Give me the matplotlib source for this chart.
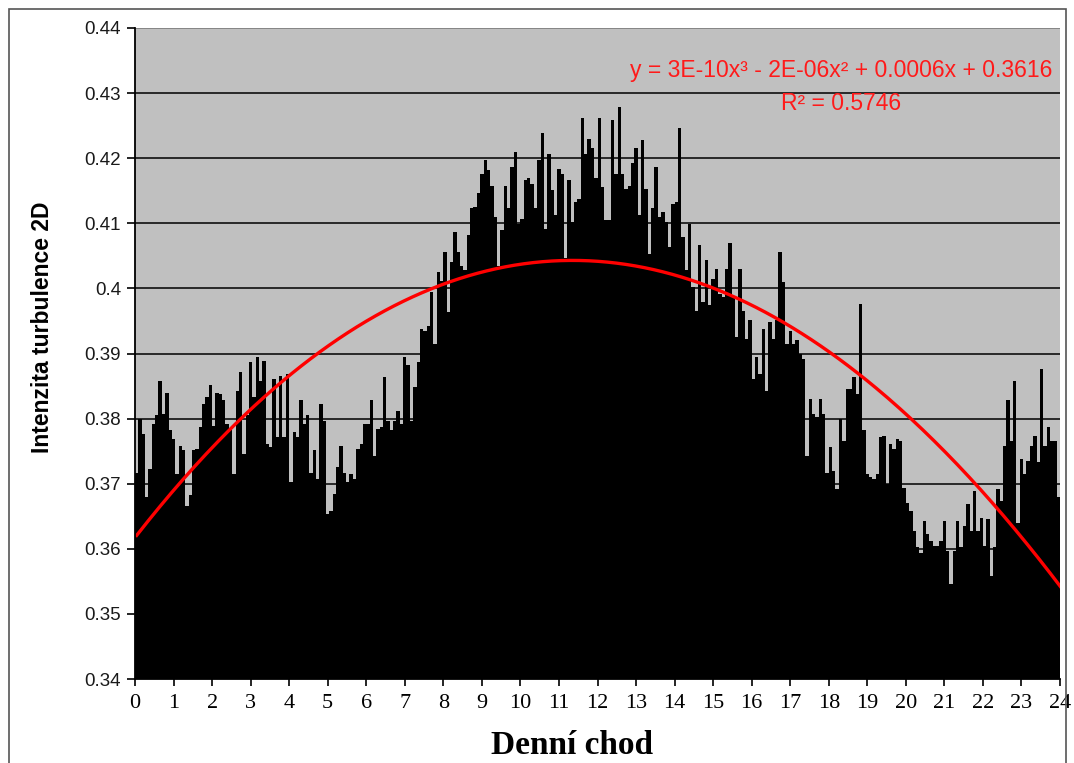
import numpy as np
import matplotlib.pyplot as plt
from matplotlib.patches import Rectangle

# Intenzita turbulence 2D (denní chod, 0-24 h)
intenzita = [
    # 0-4 h
    0.3717, 0.3800, 0.3776, 0.3679, 0.3722, 0.3792, 0.3805, 0.3858, 0.3807, 0.3840,
    0.3782, 0.3769, 0.3715, 0.3758, 0.3751, 0.3666, 0.3682, 0.3751, 0.3753, 0.3787,
    0.3823, 0.3833, 0.3851, 0.3789, 0.3840, 0.3838, 0.3828, 0.3792, 0.3782, 0.3715,
    0.3843, 0.3871, 0.3746, 0.3805, 0.3887, 0.3833, 0.3894, 0.3858, 0.3889, 0.3761,
    0.3756, 0.3861, 0.3771, 0.3866, 0.3771, 0.3869,
    # 4-8 h
    0.3702, 0.3779, 0.3771, 0.3828, 0.3792, 0.3805, 0.3717, 0.3751, 0.3707, 0.3823,
    0.3797, 0.3653, 0.3658, 0.3684, 0.3725, 0.3758, 0.3717, 0.3702, 0.3715, 0.3707,
    0.3753, 0.3761, 0.3792, 0.3792, 0.3828, 0.3743, 0.3784, 0.3787, 0.3864, 0.3797,
    0.3782, 0.3797, 0.3812, 0.3792, 0.3894, 0.3883, 0.3797, 0.3848, 0.3887, 0.3938,
    0.3935, 0.3943, 0.3994, 0.3915, 0.4025,
    # 8-12 h
    0.4012, 0.4056, 0.3964, 0.4041, 0.4087, 0.4056, 0.4035, 0.4028, 0.4082, 0.4123,
    0.4125, 0.4146, 0.4176, 0.4197, 0.4182, 0.4158, 0.4110, 0.4035, 0.4089, 0.4158,
    0.4123, 0.4187, 0.4210, 0.4099, 0.4107, 0.4166, 0.4169, 0.4161, 0.4123, 0.4197,
    0.4238, 0.4092, 0.4207, 0.4151, 0.4112, 0.4184, 0.4176, 0.4046, 0.4166, 0.4102,
    0.4133, 0.4138, 0.4261, 0.4207, 0.4230,
    # 12-16 h
    0.4215, 0.4169, 0.4261, 0.4156, 0.4105, 0.4105, 0.4258, 0.4176, 0.4279, 0.4176,
    0.4153, 0.4158, 0.4192, 0.4215, 0.4112, 0.4228, 0.4153, 0.4053, 0.4123, 0.4187,
    0.4110, 0.4117, 0.4102, 0.4064, 0.4130, 0.4133, 0.4246, 0.4079, 0.4028, 0.4099,
    0.4002, 0.3966, 0.4066, 0.3979, 0.4043, 0.3974, 0.4015, 0.4030, 0.3992, 0.3987,
    0.4030, 0.4069, 0.3987, 0.3925, 0.4030,
    # 16-20 h
    0.3966, 0.3923, 0.3951, 0.3861, 0.3894, 0.3869, 0.3938, 0.3843, 0.3948, 0.3923,
    0.3951, 0.4056, 0.4010, 0.3915, 0.3935, 0.3915, 0.3920, 0.3899, 0.3892, 0.3743,
    0.3830, 0.3807, 0.3802, 0.3830, 0.3807, 0.3717, 0.3756, 0.3720, 0.3692, 0.3799,
    0.3766, 0.3846, 0.3846, 0.3864, 0.3838, 0.3976, 0.3782, 0.3715, 0.3710, 0.3707,
    0.3715, 0.3771, 0.3774, 0.3700, 0.3761,
    # 20-24 h
    0.3753, 0.3769, 0.3766, 0.3694, 0.3671, 0.3658, 0.3628, 0.3602, 0.3594, 0.3643,
    0.3623, 0.3612, 0.3605, 0.3605, 0.3612, 0.3643, 0.3597, 0.3546, 0.3597, 0.3643,
    0.3602, 0.3635, 0.3669, 0.3628, 0.3689, 0.3628, 0.3648, 0.3605, 0.3646, 0.3558,
    0.3602, 0.3692, 0.3674, 0.3758, 0.3828, 0.3766, 0.3858, 0.3640, 0.3738, 0.3715,
    0.3735, 0.3758, 0.3774, 0.3733, 0.3876, 0.3758, 0.3787, 0.3766, 0.3766, 0.3679,
]

hodiny = list(range(0, 25))
y_ticks = [0.34, 0.35, 0.36, 0.37, 0.38, 0.39, 0.40, 0.41, 0.42, 0.43, 0.44]
y_labels = ['0.34', '0.35', '0.36', '0.37', '0.38', '0.39', '0.4', '0.41', '0.42', '0.43', '0.44']
rovnice = 'y = 3E-10x³ - 2E-06x² + 0.0006x + 0.3616\nR² = 0.5746'

vals = np.array(intenzita)
n = len(vals)
idx = np.arange(1, n + 1)
x = (idx - 0.5) * 24 / n

# polynomicky trend 3. stupne jako v Excelu
koef = np.polyfit(idx, vals, 3)
xs = np.linspace(0.5, n + 0.5, 400)
trend = np.polyval(koef, xs)

fig = plt.figure(figsize=(10.74, 7.63), dpi=100)
fig.patches.append(Rectangle((9 / 1074, -0.01), 1057 / 1074, 1 - 9 / 763 + 0.01,
                             transform=fig.transFigure, fill=False,
                             edgecolor='#555555', linewidth=1.2))
ax = fig.add_axes([135 / 1074, 1 - 679 / 763, 925 / 1074, 651 / 763])
ax.set_facecolor('#C0C0C0')

ax.bar(x, vals - 0.34, bottom=0.34, width=24 / n, color='black', linewidth=0)
ax.plot(xs * 24 / n, trend, color='#FF0000', linewidth=2.4)

ax.set_xlim(0, 24)
ax.set_ylim(0.34, 0.44)
ax.set_yticks(y_ticks)
ax.set_yticklabels(y_labels, fontsize=13.5, family='Liberation Sans', color='#1a1a1a')
ax.set_xticks(hodiny)
ax.set_xticklabels([str(h) for h in hodiny], fontsize=16, family='Liberation Serif')
ax.tick_params(axis='y', direction='out', length=6, width=1.2, pad=4)
ax.tick_params(axis='x', direction='out', length=5, width=1.2, pad=6)

ax.set_axisbelow(True)
ax.grid(axis='y', color='black', linewidth=1.1)
ax.grid(axis='x', visible=False)
for s in ['top', 'right']:
    ax.spines[s].set_visible(False)
ax.spines['left'].set_linewidth(1.3)
ax.spines['bottom'].set_linewidth(1.3)
ax.axhline(0.44, color='#9a9a9a', linewidth=1.2)

ax.set_ylabel('Intenzita turbulence 2D', fontsize=16.5, fontweight='bold',
              family='Liberation Sans')
ax.yaxis.set_label_coords(-0.088, 0.541)
ax.set_xlabel('Denní chod', fontsize=24, fontweight='bold', family='Liberation Serif')
ax.xaxis.set_label_coords(0.472, -0.078)

ax.text(0.763, 0.953, rovnice, transform=ax.transAxes, ha='center', va='top',
        fontsize=16.5, color='#FF1A1A', family='Liberation Sans', linespacing=1.6)

fig.savefig('out.png', dpi=100)
